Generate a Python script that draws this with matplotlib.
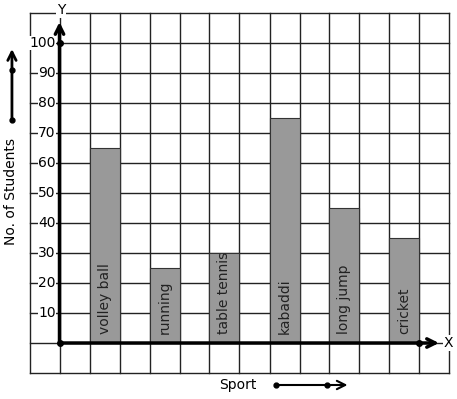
import matplotlib
matplotlib.use('Agg')
import matplotlib.pyplot as plt

sports = ['volley ball', 'running', 'table tennis', 'kabaddi', 'long jump', 'cricket']
students = [65, 25, 30, 75, 45, 35]
y_ticks = [10, 20, 30, 40, 50, 60, 70, 80, 90, 100]

# one grid square = 30 px; origin at pixel (59.5, 343)
fig = plt.figure(figsize=(4.57, 3.99), dpi=100)
ax = fig.add_axes([0, 0, 1, 1])
ax.set_xlim(-59.5 / 30, (457 - 59.5) / 30)
ax.set_ylim(-(399 - 343) / 30, 343 / 30)
ax.axis('off')

# grid squares
for gx in range(-1, 14):
    ax.plot([gx, gx], [-1, 11], color='#222222', lw=1, zorder=1)
for gy in range(-1, 12):
    ax.plot([-1, 13], [gy, gy], color='#222222', lw=1, zorder=1)

# bars, one square wide with a square gap
for i, (name, val) in enumerate(zip(sports, students)):
    x0 = 1 + 2 * i
    ax.bar(x0 + 0.5, val / 10, width=1, color='#999999', edgecolor='#333333',
           lw=0.8, zorder=2)
    ax.text(x0 + 0.5, 0.3, name, rotation=90, ha='center', va='bottom',
            fontsize=10, color='#222222', zorder=3)

# axes with arrows
ax.annotate('', xy=(0, 10.7), xytext=(0, 0),
            arrowprops=dict(arrowstyle='->', lw=2.5, color='black',
                            mutation_scale=15, shrinkA=0, shrinkB=0), zorder=4)
ax.annotate('', xy=(12.65, 0), xytext=(0, 0),
            arrowprops=dict(arrowstyle='->', lw=2.5, color='black',
                            mutation_scale=15, shrinkA=0, shrinkB=0), zorder=4)
ax.plot([0, 0, 12], [0, 10, 0], 'o', color='black', ms=4, zorder=5)
ax.text(12.95, 0, 'X', ha='center', va='center', fontsize=10,
        bbox=dict(fc='white', ec='none', pad=0.5), zorder=5)
ax.text(0.05, 11.1, 'Y', ha='center', va='center', fontsize=10,
        bbox=dict(fc='white', ec='none', pad=0.5), zorder=5)

for t in y_ticks:
    ax.text(-0.13, t / 10, str(t), ha='right', va='center', fontsize=10,
            bbox=dict(fc='white', ec='none', pad=0.3), zorder=5)

# axis titles with direction arrows
ax.text(-1.6, 5.05, 'No. of Students', rotation=90, ha='center', va='center',
        fontsize=10)
ax.annotate('', xy=(-1.585, 9.8), xytext=(-1.585, 7.43),
            arrowprops=dict(arrowstyle='->', lw=2, color='black',
                            mutation_scale=15, shrinkA=0, shrinkB=0))
ax.plot([-1.585, -1.585], [7.43, 9.1], 'o', color='black', ms=3.5)

ax.text(5.95, -1.4, 'Sport', ha='center', va='center', fontsize=10)
ax.annotate('', xy=(9.6, -1.4), xytext=(7.22, -1.4),
            arrowprops=dict(arrowstyle='->', lw=1.5, color='black',
                            mutation_scale=15, shrinkA=0, shrinkB=0))
ax.plot([7.22, 8.9], [-1.4, -1.4], 'o', color='black', ms=3.5)

fig.savefig('out.png', dpi=100, facecolor='white')
